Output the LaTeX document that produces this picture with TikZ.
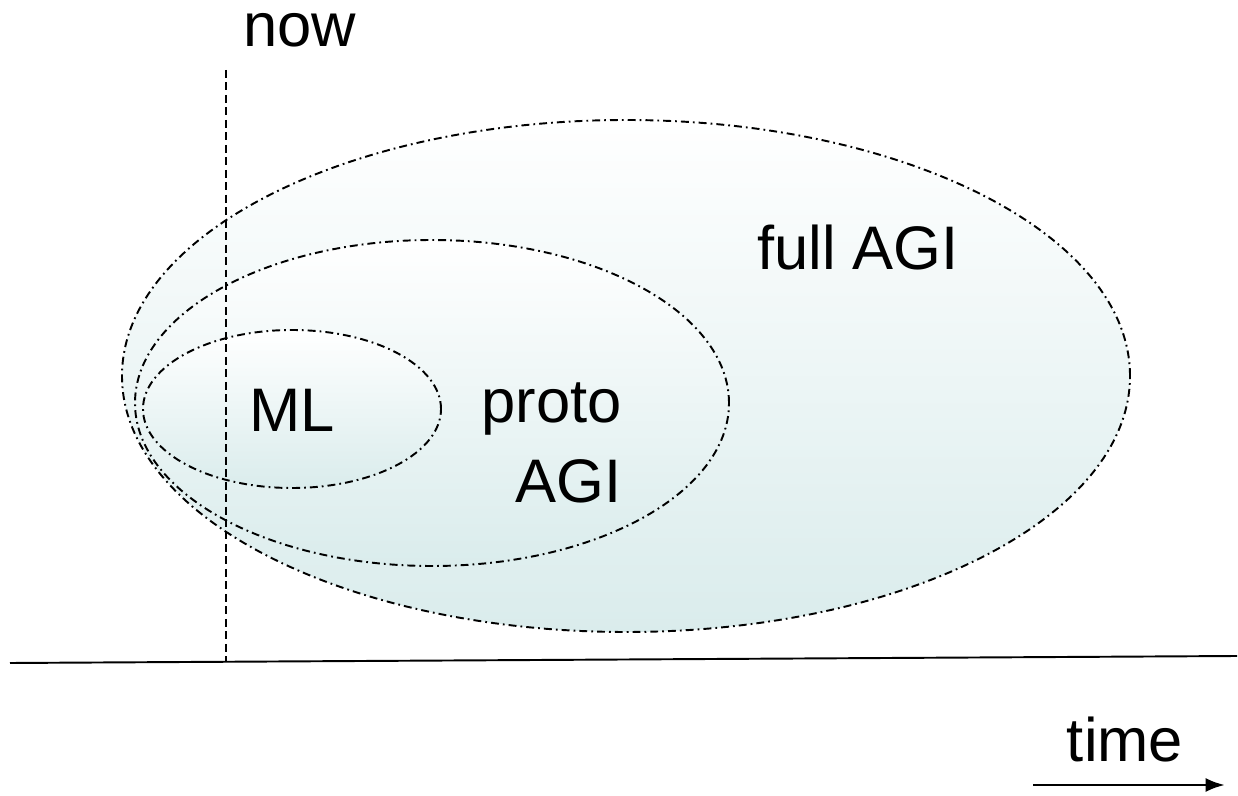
\documentclass[tikz,border=0pt]{standalone}
\usepackage{fontspec}
\setmainfont{Liberation Sans}
\usetikzlibrary{arrows.meta,positioning}

\definecolor{agiteal}{RGB}{218,236,236}
\tikzset{
  region/.style={draw=black, line width=1.1pt, top color=white, bottom color=agiteal,
    dash pattern=on 4.5pt off 2.3pt on 1pt off 2.3pt},
  lbl/.style={font=\fontsize{35}{46}\selectfont, inner sep=0pt}
}

\begin{document}
\begin{tikzpicture}[x=0.02cm,y=0.02cm,>=Latex]
  \useasboundingbox (0,0) rectangle (1238,795);
  % regions
  \path[region] (626,419) ellipse [x radius=504, y radius=256];
  \path[region] (432,392) ellipse [x radius=297, y radius=163];
  \path[region] (292,386) ellipse [x radius=149, y radius=79];
  % now and time axis
  \coordinate (nowtop) at (226,725);
  \coordinate (nowbot) at (226,133);
  \draw[dash pattern=on 4.5pt off 2.6pt, line width=1.1pt] (nowtop) -- (nowbot);
  \coordinate (axisl) at (10,132);
  \coordinate (axisr) at (1237,139);
  \draw[line width=1.1pt] (axisl) -- (axisr);
  \coordinate (arrowl) at (1033,10);
  \coordinate (arrowr) at (1225,10);
  \draw[-{Latex[length=11pt,width=8pt]}, line width=1.7pt] (arrowl) -- (arrowr);
  % labels
  \node[lbl] (now) at (300,765) {now};
  \node[lbl] (full) at (858,547) {full AGI};
  \node[lbl] (ml) at (292,385) {ML};
  \node[lbl, align=right, anchor=east] (proto) at (622,352) {proto\\AGI};
  \node[lbl] (time) at (1125,55) {time};
\end{tikzpicture}
\end{document}
